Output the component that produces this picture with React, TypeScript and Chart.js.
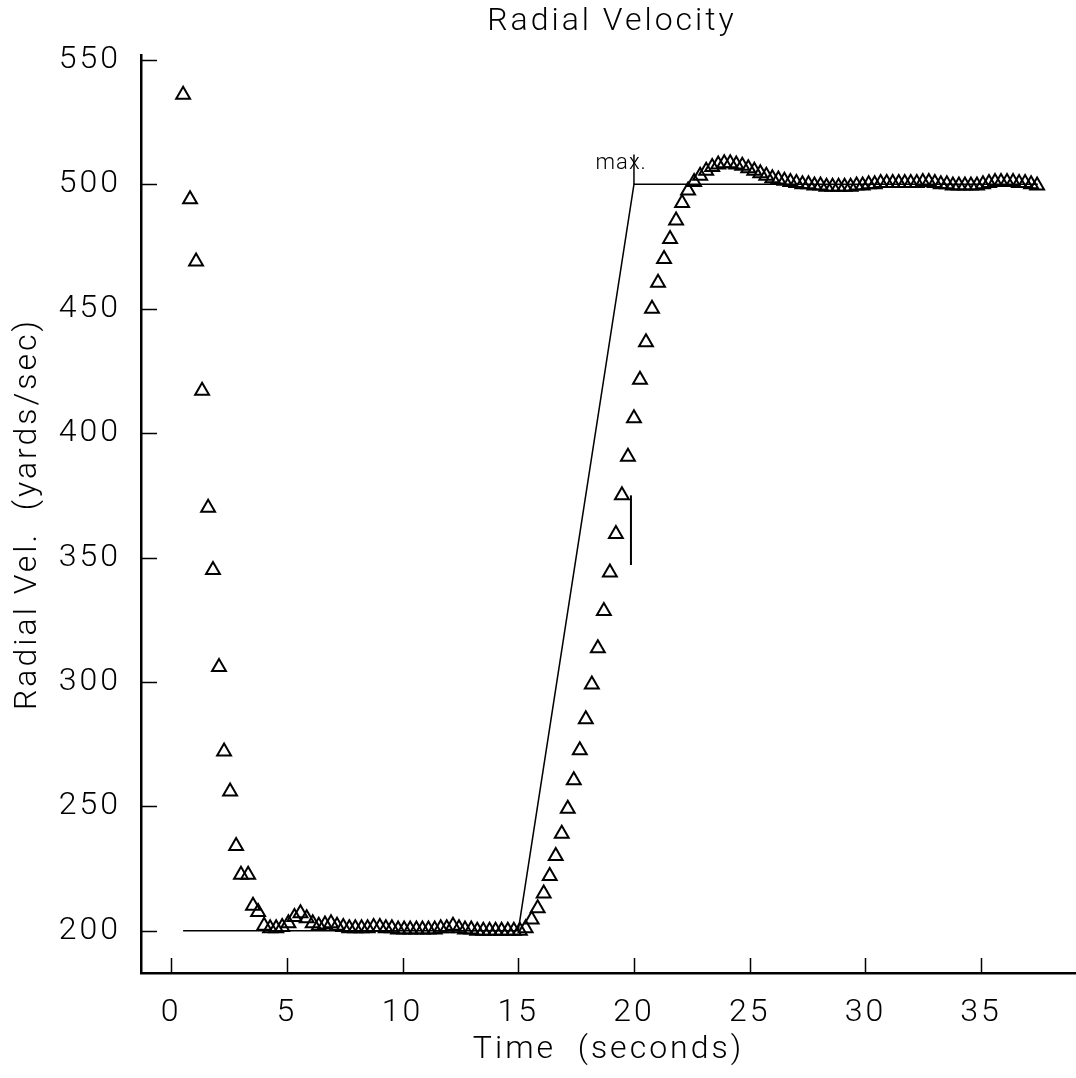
import { useEffect, useRef } from 'react';
import { Chart, registerables } from 'chart.js';

Chart.register(...registerables);

// Sample times (s) of the measured radial velocity
const timeSec = [
  0.52, 0.82, 1.08, 1.34, 1.6, 1.81, 2.07, 2.29, 2.55, 2.81, 3.02, 3.33, 3.54, 3.76, 4.02,
  4.28, 4.54, 4.8, 5.07, 5.33, 5.59, 5.86, 6.12, 6.38, 6.65, 6.91, 7.17, 7.44, 7.7, 7.96,
  8.23, 8.49, 8.75, 9.02, 9.28, 9.54, 9.81, 10.07, 10.33, 10.6, 10.86, 11.12, 11.39, 11.65,
  11.91, 12.18, 12.44, 12.7, 12.97, 13.23, 13.49, 13.76, 14.02, 14.28, 14.55, 14.81, 15.07,
  15.32, 15.58, 15.84, 16.1, 16.36, 16.62, 16.88, 17.14, 17.4, 17.66, 17.92, 18.18, 18.44,
  18.7, 18.96, 19.22, 19.48, 19.74, 20.0, 20.26, 20.52, 20.78, 21.04, 21.3, 21.56, 21.82,
  22.08, 22.34, 22.6, 22.86, 23.12, 23.38, 23.64, 23.9, 24.16, 24.42, 24.68, 24.94, 25.2,
  25.46, 25.72, 25.98, 26.24, 26.5, 26.76, 27.02, 27.28, 27.54, 27.8, 28.06, 28.32, 28.58,
  28.84, 29.1, 29.36, 29.62, 29.88, 30.14, 30.4, 30.66, 30.92, 31.18, 31.44, 31.7, 31.96,
  32.22, 32.48, 32.74, 33.0, 33.26, 33.52, 33.78, 34.04, 34.3, 34.56, 34.82, 35.08, 35.34,
  35.6, 35.86, 36.12, 36.38, 36.64, 36.9, 37.16, 37.42,
];

// Measured radial velocity (yards/sec)
const radialVel = [
  536, 494, 469, 417, 370, 345, 306, 272, 256, 234, 222.5, 222.5, 210, 207.5, 202,
  201, 201, 201.5, 203, 205.5, 207, 205, 203, 202, 202.5, 203, 202, 201.5, 201, 201,
  201, 201, 201.5, 201.5, 201, 201, 200.5, 200.5, 200.5, 200.5, 200.5, 200.5, 200.5, 201,
  201, 202, 201, 200.5, 200.5, 200, 200, 200, 200, 200, 200, 200, 200,
  201, 204.5, 209, 215, 222, 230, 239, 249, 260.5, 272.5, 285, 299, 313.5,
  328.5, 344, 359.5, 375, 390.5, 406, 421.5, 436.5, 450, 460.5, 470, 478, 485.5,
  492.5, 497.5, 501, 503.5, 505.5, 507, 508, 508.5, 508.5, 508, 507.5, 506.5, 505.5,
  504.5, 503.5, 502.5, 502, 501.5, 501, 500.5, 500, 500, 499.5, 499.5, 499, 499,
  499, 499, 499, 499.5, 499.5, 500, 500, 500.5, 500.5, 500.5, 500.5, 500.5, 500.5,
  500.5, 501, 501, 500.5, 500, 500, 499.5, 499.5, 499.5, 499.5, 499.5, 500, 500.5,
  501, 501, 501, 501, 500.5, 500.5, 500, 499.5,
];

// Commanded (reference) profile
const refTime = [0.52, 15, 20, 37.45];
const refVel = [200, 200, 500, 500];

// "max." marker
const maxMarkTime = [20, 20];
const maxMarkVel = [500, 512];
const maxLabel = 'max.';
const maxLabelPos = [19.45, 508.5];

// small vertical cue line
const cueTime = [19.87, 19.87];
const cueVel = [347, 375];

const xTicks = [0, 5, 10, 15, 20, 25, 30, 35];
const yTicks = [200, 250, 300, 350, 400, 450, 500, 550];

const titleText = 'Radial Velocity';
const xTitle = 'Time  (seconds)';
const yTitle = 'Radial Vel.  (yards/sec)';

const FAMILY = 'Roboto, "DejaVu Sans", sans-serif';
const SPACING = '3px';

const toXY = (xs: number[], ys: number[]) => xs.map((x, i) => ({ x, y: ys[i] }));

export default function App() {
  const ref = useRef<HTMLCanvasElement | null>(null);

  useEffect(() => {
    if (!ref.current) return;

    const spacingPlugin = {
      id: 'spacing',
      beforeLayout(chart: any) {
        chart.ctx.letterSpacing = SPACING;
      },
      beforeDraw(chart: any) {
        chart.ctx.letterSpacing = SPACING;
      },
    };

    const annotPlugin = {
      id: 'annot',
      afterDraw(chart: any) {
        const { ctx, chartArea } = chart;
        const xs = chart.scales.x;
        const ys = chart.scales.y;
        ctx.save();
        ctx.strokeStyle = '#000';
        ctx.lineWidth = 1.5;
        ctx.beginPath();
        yTicks.forEach((v) => {
          const py = Math.round(ys.getPixelForValue(v)) + 0.5;
          ctx.moveTo(chartArea.left, py);
          ctx.lineTo(chartArea.left + 16, py);
        });
        xTicks.forEach((v) => {
          const px = Math.round(xs.getPixelForValue(v)) + 0.5;
          ctx.moveTo(px, chartArea.bottom);
          ctx.lineTo(px, chartArea.bottom - 15);
        });
        ctx.stroke();

        ctx.fillStyle = '#000';
        ctx.textAlign = 'center';
        ctx.textBaseline = 'middle';
        ctx.letterSpacing = SPACING;
        ctx.font = `300 32px ${FAMILY}`;
        ctx.fillText(titleText, 612, 22);

        ctx.letterSpacing = '1px';
        ctx.font = `300 22px ${FAMILY}`;
        ctx.fillText(
          maxLabel,
          xs.getPixelForValue(maxLabelPos[0]),
          ys.getPixelForValue(maxLabelPos[1])
        );
        ctx.restore();
      },
    };

    const font = { family: FAMILY, size: 32, weight: '300' as any };

    const chart = new Chart(ref.current, {
      type: 'scatter',
      data: {
        datasets: [
          {
            label: 'Radial velocity',
            data: toXY(timeSec, radialVel),
            showLine: false,
            pointStyle: 'triangle',
            pointRadius: 8,
            pointBorderWidth: 2,
            pointBackgroundColor: 'rgba(0,0,0,0)',
            pointBorderColor: '#000',
            borderColor: '#000',
          },
          {
            label: 'Reference',
            data: toXY(refTime, refVel),
            showLine: true,
            borderColor: '#000',
            borderWidth: 1.5,
            pointRadius: 0,
          },
          {
            label: 'max',
            data: toXY(maxMarkTime, maxMarkVel),
            showLine: true,
            borderColor: '#000',
            borderWidth: 1.5,
            pointRadius: 0,
          },
          {
            label: 'cue',
            data: toXY(cueTime, cueVel),
            showLine: true,
            borderColor: '#000',
            borderWidth: 2,
            pointRadius: 0,
          },
        ],
      },
      options: {
        animation: false,
        responsive: false,
        devicePixelRatio: 1,
        layout: { padding: { top: 55, right: 0, bottom: 0, left: 0 } },
        plugins: {
          legend: { display: false },
          tooltip: { enabled: false },
          title: { display: false },
        },
        scales: {
          x: {
            type: 'linear',
            min: -1.3,
            max: 39.1,
            afterBuildTicks: (s: any) => {
              s.ticks = xTicks.map((value) => ({ value }));
            },
            afterFit: (s: any) => {
              s.height = 105;
              s.paddingLeft = 0;
              s.paddingRight = 0;
            },
            grid: { display: false },
            border: { display: true, color: '#000', width: 2.5 },
            ticks: {
              color: '#000',
              font,
              padding: 13,
              maxRotation: 0,
              autoSkip: false,
            },
            title: {
              display: true,
              text: xTitle,
              color: '#000',
              font,
              padding: { top: 0, bottom: 9 },
            },
          },
          y: {
            type: 'linear',
            min: 183,
            max: 552,
            afterBuildTicks: (s: any) => {
              s.ticks = yTicks.map((value) => ({ value }));
            },
            afterFit: (s: any) => {
              s.width = 141;
            },
            grid: { display: false },
            border: { display: true, color: '#000', width: 2.5 },
            ticks: { color: '#000', font, padding: 12, autoSkip: false },
            title: {
              display: true,
              text: yTitle,
              color: '#000',
              font,
              padding: { top: 9, bottom: 0 },
            },
          },
        },
      },
      plugins: [spacingPlugin, annotPlugin],
    } as any);

    return () => chart.destroy();
  }, []);

  return (
    <div
      style={{
        position: 'fixed',
        left: 0,
        top: 0,
        width: 1076,
        height: 1078,
        overflow: 'hidden',
        background: '#fff',
      }}
    >
      <canvas ref={ref} width={1086} height={1078} style={{ display: 'block' }} />
    </div>
  );
}
